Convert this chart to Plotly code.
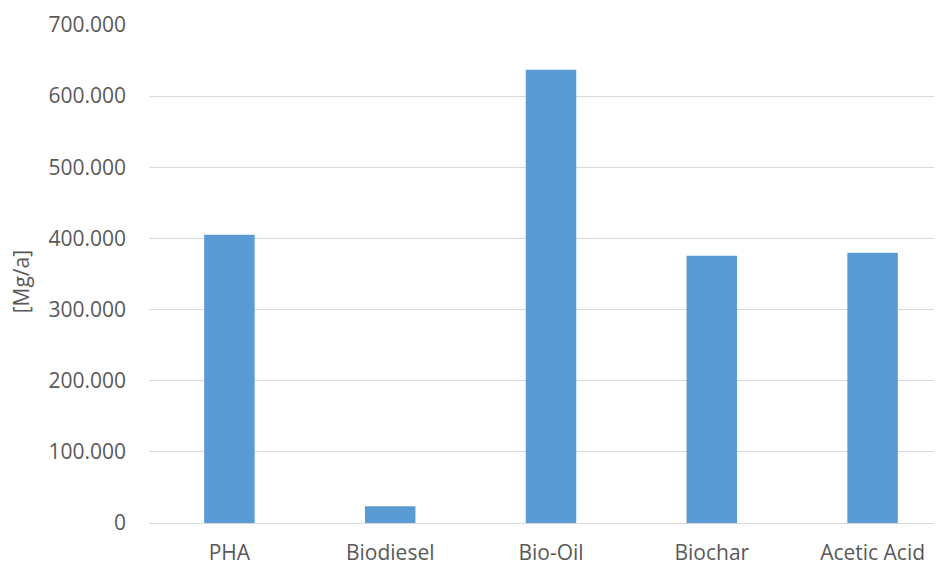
import plotly.graph_objects as go

categories = ["PHA", "Biodiesel", "Bio-Oil", "Biochar", "Acetic Acid"]
values = [405000, 23500, 637000, 375700, 380000]
y_ticks = [0, 100000, 200000, 300000, 400000, 500000, 600000, 700000]
y_title = "[Mg/a]"

# page has an 8px body margin, so the figure is drawn 8px in from top-left
OFF = 8
W, H = 942 - OFF, 565 - OFF
ML, MR, MT, MB = 149 - OFF, 0, 25 - OFF, 42
plot_w = W - ML - MR
plot_h = H - MT - MB

font_family = "Open Sans, Lato, sans-serif"
grey = "#595959"
fs = 21

fig = go.Figure(
    go.Bar(
        x=list(range(len(categories))),
        y=values,
        marker=dict(color="#5b9bd5", line=dict(width=0)),
        width=0.314,
        hoverinfo="x+y",
    )
)

cat_px = 160.8
span = plot_w / cat_px

fig.update_layout(
    width=W,
    height=H,
    margin=dict(l=ML, r=MR, t=MT, b=MB, autoexpand=False),
    paper_bgcolor="white",
    plot_bgcolor="white",
    separators=",.",
    showlegend=False,
    font=dict(family=font_family, size=fs, color=grey),
    xaxis=dict(
        range=[-0.5, -0.5 + span],
        tickmode="array",
        tickvals=list(range(len(categories))),
        ticktext=categories,
        showgrid=False,
        zeroline=False,
        showline=False,
        ticks="",
        ticklabelstandoff=15,
        tickfont=dict(family=font_family, size=fs, color=grey),
        fixedrange=True,
    ),
    yaxis=dict(
        range=[0, 700000],
        tickmode="array",
        tickvals=y_ticks,
        ticktext=[f"{v:,}".replace(",", ".") for v in y_ticks],
        showgrid=True,
        gridcolor="#d9d9d9",
        gridwidth=1,
        zeroline=True,
        zerolinecolor="#d9d9d9",
        zerolinewidth=1,
        showline=False,
        ticks="",
        ticklabelstandoff=22,
        tickfont=dict(family=font_family, size=fs, color=grey),
        fixedrange=True,
    ),
    annotations=[
        dict(
            text=y_title,
            xref="paper",
            yref="paper",
            x=(21 - 149) / plot_w,
            y=(522.7 - 282) / plot_h,
            xanchor="center",
            yanchor="middle",
            textangle=-90,
            showarrow=False,
            font=dict(family=font_family, size=fs, color=grey),
        )
    ],
)

fig.write_html("out.html")
